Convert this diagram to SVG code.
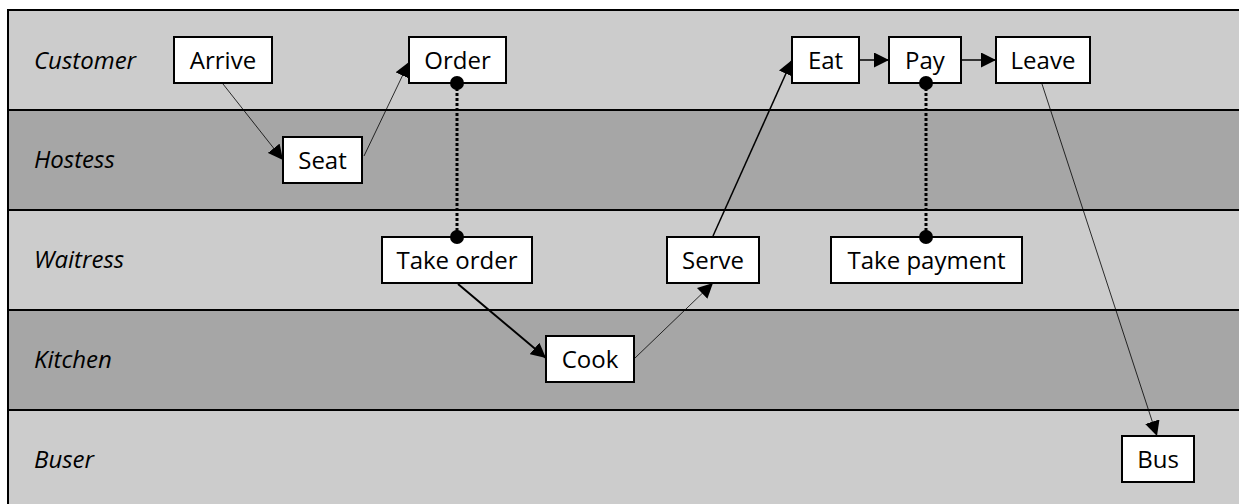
<svg xmlns="http://www.w3.org/2000/svg" width="1239" height="504" viewBox="0 0 1239 504">
<style>
.lane-l{fill:#cccccc;stroke:#000;stroke-width:2}
.lane-d{fill:#a6a6a6;stroke:#000;stroke-width:2}
.lbl{font-family:"Open Sans","Noto Sans",sans-serif;font-style:italic;font-size:24px;fill:#000}
.box{fill:#fff;stroke:#000;stroke-width:2}
.txt{font-family:"Open Sans","Noto Sans",sans-serif;font-size:24px;fill:#000;text-anchor:middle}
.c{fill:none;stroke:#000}
.dot{fill:#000}
.dotted{fill:none;stroke:#000;stroke-width:3;stroke-dasharray:3 2}
</style>
<defs>
<marker id="ah" viewBox="0 0 15 15" refX="15" refY="7.5" markerWidth="15" markerHeight="15" markerUnits="userSpaceOnUse" orient="auto">
<path d="M0,0 L15,7.5 L0,15 Z" fill="#000"/>
</marker>
</defs>
<rect width="1239" height="504" fill="#fff"/>
<g id="lanes">
<g id="lane-customer"><rect class="lane-l" x="8" y="10" width="1240" height="100"/><text class="lbl" x="34" y="69">Customer</text></g>
<g id="lane-hostess"><rect class="lane-d" x="8" y="110" width="1240" height="100"/><text class="lbl" x="34" y="168">Hostess</text></g>
<g id="lane-waitress"><rect class="lane-l" x="8" y="210" width="1240" height="100"/><text class="lbl" x="34" y="268">Waitress</text></g>
<g id="lane-kitchen"><rect class="lane-d" x="8" y="310" width="1240" height="100"/><text class="lbl" x="34" y="368">Kitchen</text></g>
<g id="lane-buser"><rect class="lane-l" x="8" y="410" width="1240" height="110"/><text class="lbl" x="34" y="468">Buser</text></g>
</g>
<g id="node-arrive"><rect class="box" x="174" y="37" width="98" height="46"/><text class="txt" x="223" y="69">Arrive</text></g>
<g id="node-order"><rect class="box" x="409" y="37" width="97" height="46"/><text class="txt" x="457.5" y="69">Order</text></g>
<g id="node-seat"><rect class="box" x="283" y="137" width="79" height="46"/><text class="txt" x="322.5" y="169">Seat</text></g>
<g id="node-take-order"><rect class="box" x="382" y="237" width="150" height="46"/><text class="txt" x="457" y="269">Take order</text></g>
<g id="node-serve"><rect class="box" x="667" y="237" width="92" height="46"/><text class="txt" x="713" y="269">Serve</text></g>
<g id="node-cook"><rect class="box" x="546" y="336" width="88" height="46"/><text class="txt" x="590" y="368">Cook</text></g>
<g id="node-eat"><rect class="box" x="792" y="37" width="67" height="46"/><text class="txt" x="825.5" y="69">Eat</text></g>
<g id="node-pay"><rect class="box" x="889" y="37" width="72" height="46"/><text class="txt" x="925" y="69">Pay</text></g>
<g id="node-leave"><rect class="box" x="996" y="37" width="94" height="46"/><text class="txt" x="1043" y="69">Leave</text></g>
<g id="node-take-payment"><rect class="box" x="831" y="237" width="191" height="46"/><text class="txt" x="926.5" y="269">Take payment</text></g>
<g id="node-bus"><rect class="box" x="1122" y="436" width="72" height="46"/><text class="txt" x="1158" y="468">Bus</text></g>
<g id="connectors">
<line class="c" stroke-width="0.8" x1="223" y1="84" x2="283" y2="160" marker-end="url(#ah)"/>
<line class="c" stroke-width="0.8" x1="364" y1="156" x2="409" y2="62" marker-end="url(#ah)"/>
<line class="dotted" x1="457" y1="83" x2="457" y2="237"/>
<circle class="dot" cx="457" cy="83" r="7"/>
<circle class="dot" cx="457" cy="237" r="7"/>
<line class="c" stroke-width="2" x1="458" y1="284" x2="546" y2="358" marker-end="url(#ah)"/>
<line class="c" stroke-width="0.8" x1="635" y1="358" x2="713" y2="283" marker-end="url(#ah)"/>
<line class="c" stroke-width="1.5" x1="713" y1="236" x2="792" y2="60" marker-end="url(#ah)"/>
<line class="c" stroke-width="1.5" x1="860" y1="60" x2="889" y2="60" marker-end="url(#ah)"/>
<line class="c" stroke-width="1.5" x1="962" y1="60" x2="996" y2="60" marker-end="url(#ah)"/>
<line class="dotted" x1="926" y1="83" x2="926" y2="237"/>
<circle class="dot" cx="926" cy="83" r="7"/>
<circle class="dot" cx="926" cy="237" r="7"/>
<line class="c" stroke-width="0.8" x1="1042" y1="84" x2="1157" y2="436" marker-end="url(#ah)"/>
</g>
</svg>
